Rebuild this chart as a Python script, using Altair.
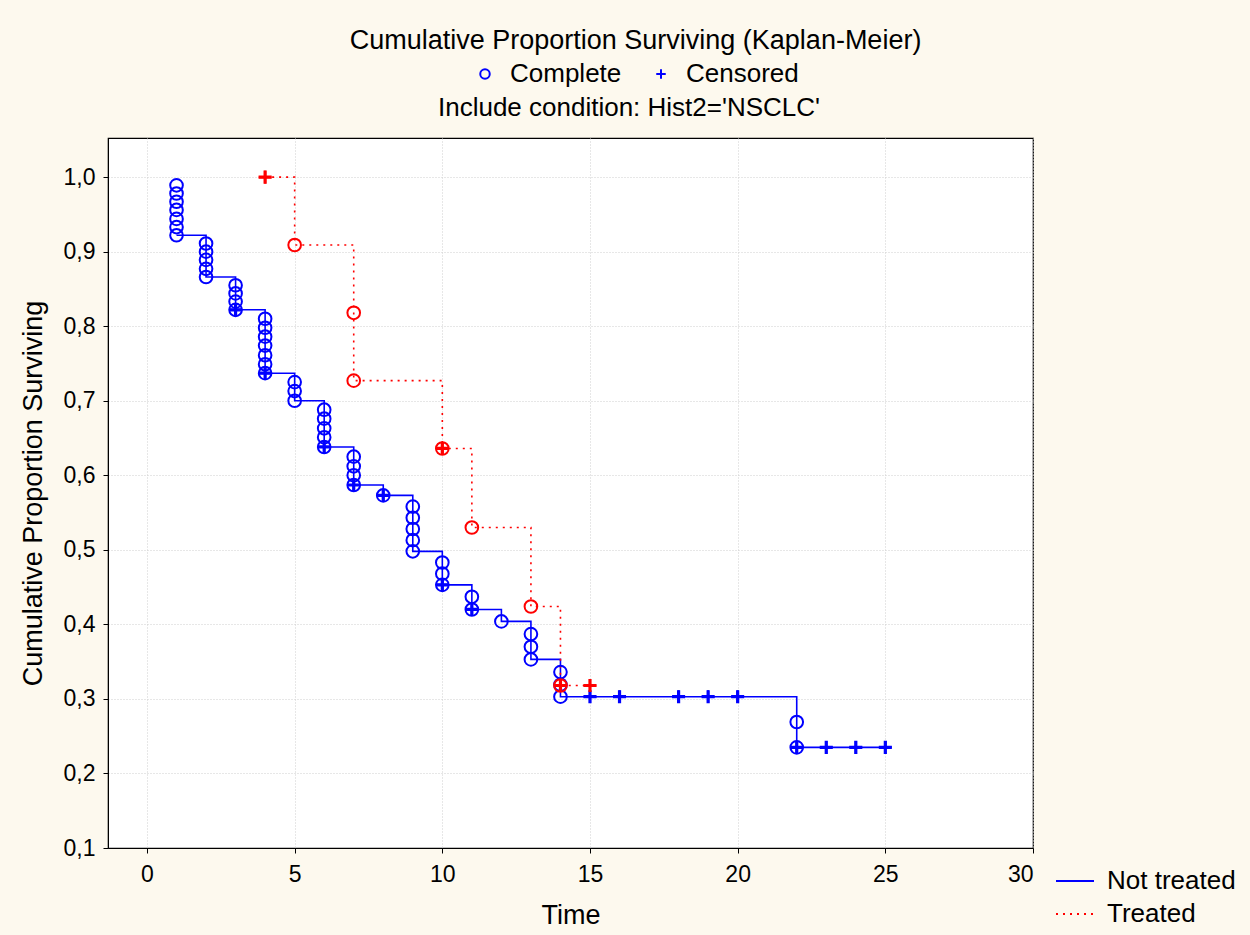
import altair as alt
import pandas as pd

FONT = "Liberation Sans"
BLUE = "#0000ff"
RED = "#ff0000"
PLUS = "M-1,0L1,0M0,-1L0,1"

# ---- Not treated (blue) ----
nt_step_time = [1, 2, 3, 4, 5, 6, 7, 8, 9, 10, 11, 12, 13, 14, 22, 25]
nt_step_surv = [0.922, 0.866, 0.822, 0.737, 0.700, 0.638, 0.587, 0.573, 0.498,
                0.453, 0.420, 0.404, 0.353, 0.303, 0.235, 0.235]
nt_complete_time = [1, 1, 1, 1, 1, 1, 1,
                    2, 2, 2, 2, 2,
                    3, 3, 3, 3,
                    4, 4, 4, 4, 4, 4, 4,
                    5, 5, 5,
                    6, 6, 6, 6, 6,
                    7, 7, 7, 7,
                    8,
                    9, 9, 9, 9, 9,
                    10, 10, 10,
                    11, 11,
                    12,
                    13, 13, 13,
                    14, 14, 14,
                    22, 22]
nt_complete_surv = [0.989, 0.978, 0.967, 0.956, 0.944, 0.933, 0.922,
                    0.911, 0.900, 0.889, 0.877, 0.866,
                    0.855, 0.844, 0.833, 0.822,
                    0.810, 0.798, 0.786, 0.774, 0.761, 0.749, 0.737,
                    0.725, 0.713, 0.700,
                    0.688, 0.676, 0.663, 0.651, 0.638,
                    0.625, 0.612, 0.600, 0.587,
                    0.573,
                    0.558, 0.543, 0.528, 0.513, 0.498,
                    0.483, 0.468, 0.453,
                    0.437, 0.420,
                    0.404,
                    0.387, 0.370, 0.353,
                    0.336, 0.319, 0.303,
                    0.269, 0.235]
nt_censored_time = [3, 4, 6, 7, 8, 10, 11, 15, 16, 18, 19, 20, 22, 23, 24, 25]
nt_censored_surv = [0.822, 0.737, 0.638, 0.587, 0.573, 0.453, 0.420, 0.303, 0.303,
                    0.303, 0.303, 0.303, 0.235, 0.235, 0.235, 0.235]

# ---- Treated (red) ----
tr_step_time = [4, 5, 7, 10, 11, 13, 14, 15]
tr_step_surv = [1.000, 0.909, 0.727, 0.636, 0.530, 0.424, 0.318, 0.318]
tr_complete_time = [5, 7, 7, 10, 11, 13, 14]
tr_complete_surv = [0.909, 0.818, 0.727, 0.636, 0.530, 0.424, 0.318]
tr_censored_time = [4, 10, 14, 15]
tr_censored_surv = [1.000, 0.636, 0.318, 0.318]

groups = ["Not treated", "Treated"]
types = ["Complete", "Censored"]
x_ticks = [0, 5, 10, 15, 20, 25, 30]
y_ticks = [0.1, 0.2, 0.3, 0.4, 0.5, 0.6, 0.7, 0.8, 0.9, 1.0]
title_line = "Cumulative Proportion Surviving (Kaplan-Meier)"
condition_line = "Include condition: Hist2='NSCLC'"

lines = pd.concat([
    pd.DataFrame({"time": nt_step_time, "surv": nt_step_surv, "group": groups[0]}),
    pd.DataFrame({"time": tr_step_time, "surv": tr_step_surv, "group": groups[1]}),
])
points = pd.concat([
    pd.DataFrame({"time": nt_complete_time, "surv": nt_complete_surv, "group": groups[0], "type": types[0]}),
    pd.DataFrame({"time": nt_censored_time, "surv": nt_censored_surv, "group": groups[0], "type": types[1]}),
    pd.DataFrame({"time": tr_complete_time, "surv": tr_complete_surv, "group": groups[1], "type": types[0]}),
    pd.DataFrame({"time": tr_censored_time, "surv": tr_censored_surv, "group": groups[1], "type": types[1]}),
], ignore_index=True)
points["idx"] = range(len(points))

xscale = alt.Scale(domain=[-1.32, 30], nice=False, zero=False)
yscale = alt.Scale(domain=[0.1, 1.0525], nice=False, zero=False)

xaxis = alt.Axis(values=x_ticks, title="Time", titleFontSize=27, titleFontWeight="normal",
                 labelFontSize=23, titlePadding=16, labelPadding=10, tickSize=5,
                 grid=True, gridColor="#cfcfcf", gridDash=[1, 2], domain=True,
                 domainColor="black", tickColor="black", labelColor="black", titleColor="black")
yaxis = alt.Axis(values=y_ticks, title="Cumulative Proportion Surviving", titleFontSize=27,
                 titleFontWeight="normal", labelFontSize=23, titlePadding=16, labelPadding=8,
                 tickSize=5, grid=True, gridColor="#cfcfcf", gridDash=[1, 2],
                 labelExpr="replace(format(datum.value, '.1f'), '.', ',')",
                 domainColor="black", tickColor="black", labelColor="black", titleColor="black")

group_legend = alt.Legend(title=None, orient="none", legendX=947, legendY=723,
                          symbolType="stroke", symbolSize=1444, symbolStrokeWidth=2,
                          labelFontSize=26, labelFont=FONT, labelColor="black",
                          rowPadding=0, labelOffset=12, padding=0)

line_layer = alt.Chart(lines).mark_line(interpolate="step-after", strokeWidth=1.6).encode(
    x=alt.X("time:Q", scale=xscale, axis=xaxis),
    y=alt.Y("surv:Q", scale=yscale, axis=yaxis),
    color=alt.Color("group:N", scale=alt.Scale(domain=groups, range=[BLUE, RED]), legend=group_legend),
    strokeDash=alt.StrokeDash("group:N", scale=alt.Scale(domain=groups, range=[[1, 0], [2, 5]]),
                              legend=group_legend),
)

point_layer = alt.Chart(points).mark_point(filled=False, opacity=1, size=160, strokeWidth=2).encode(
    x=alt.X("time:Q", scale=xscale),
    y=alt.Y("surv:Q", scale=yscale),
    color=alt.Color("group:N", scale=alt.Scale(domain=groups, range=[BLUE, RED]), legend=None),
    shape=alt.Shape("type:N", scale=alt.Scale(domain=types, range=["circle", PLUS]),
                    legend=alt.Legend(title=None, orient="none", direction="horizontal",
                                      legendX=364, legendY=-77, symbolSize=90,
                                      symbolStrokeColor=BLUE, symbolFillColor="transparent",
                                      symbolStrokeWidth=2, labelFontSize=26, labelFont=FONT,
                                      labelColor="black", columnPadding=26, labelOffset=12,
                                      padding=0)),
    order=alt.Order("idx:Q"),
)

plus_layer = alt.Chart(points).transform_filter(
    alt.datum.type == "Censored"
).mark_point(filled=False, opacity=1, size=170, strokeWidth=3.2, shape=PLUS).encode(
    x=alt.X("time:Q", scale=xscale),
    y=alt.Y("surv:Q", scale=yscale),
    color=alt.Color("group:N", scale=alt.Scale(domain=groups, range=[BLUE, RED]), legend=None),
    order=alt.Order("idx:Q"),
)

condition_text = alt.Chart(pd.DataFrame({"label": [condition_line]})).mark_text(
    fontSize=26, font=FONT, color="black", align="center", baseline="middle"
).encode(
    text="label:N",
    x=alt.value(521),
    y=alt.value(-30),
)

chart = alt.layer(line_layer, point_layer, plus_layer, condition_text).resolve_scale(
    color="independent", strokeDash="independent", shape="independent"
).properties(
    width=925, height=710,
    autosize=alt.AutoSizeParams(type="none"),
    padding={"left": 108, "top": 138, "right": 217, "bottom": 87},
    background="#fdf9ee",
    title=alt.TitleParams(
        text=title_line, anchor="middle", fontSize=27, font=FONT, frame="bounds",
        fontWeight="normal", color="black", offset=6, dx=8,
    ),
).configure(
    font=FONT
).configure_view(
    fill="white", stroke="black", strokeWidth=1.2
)

chart.save("out.html", embed_options={"renderer": "svg", "actions": False})
